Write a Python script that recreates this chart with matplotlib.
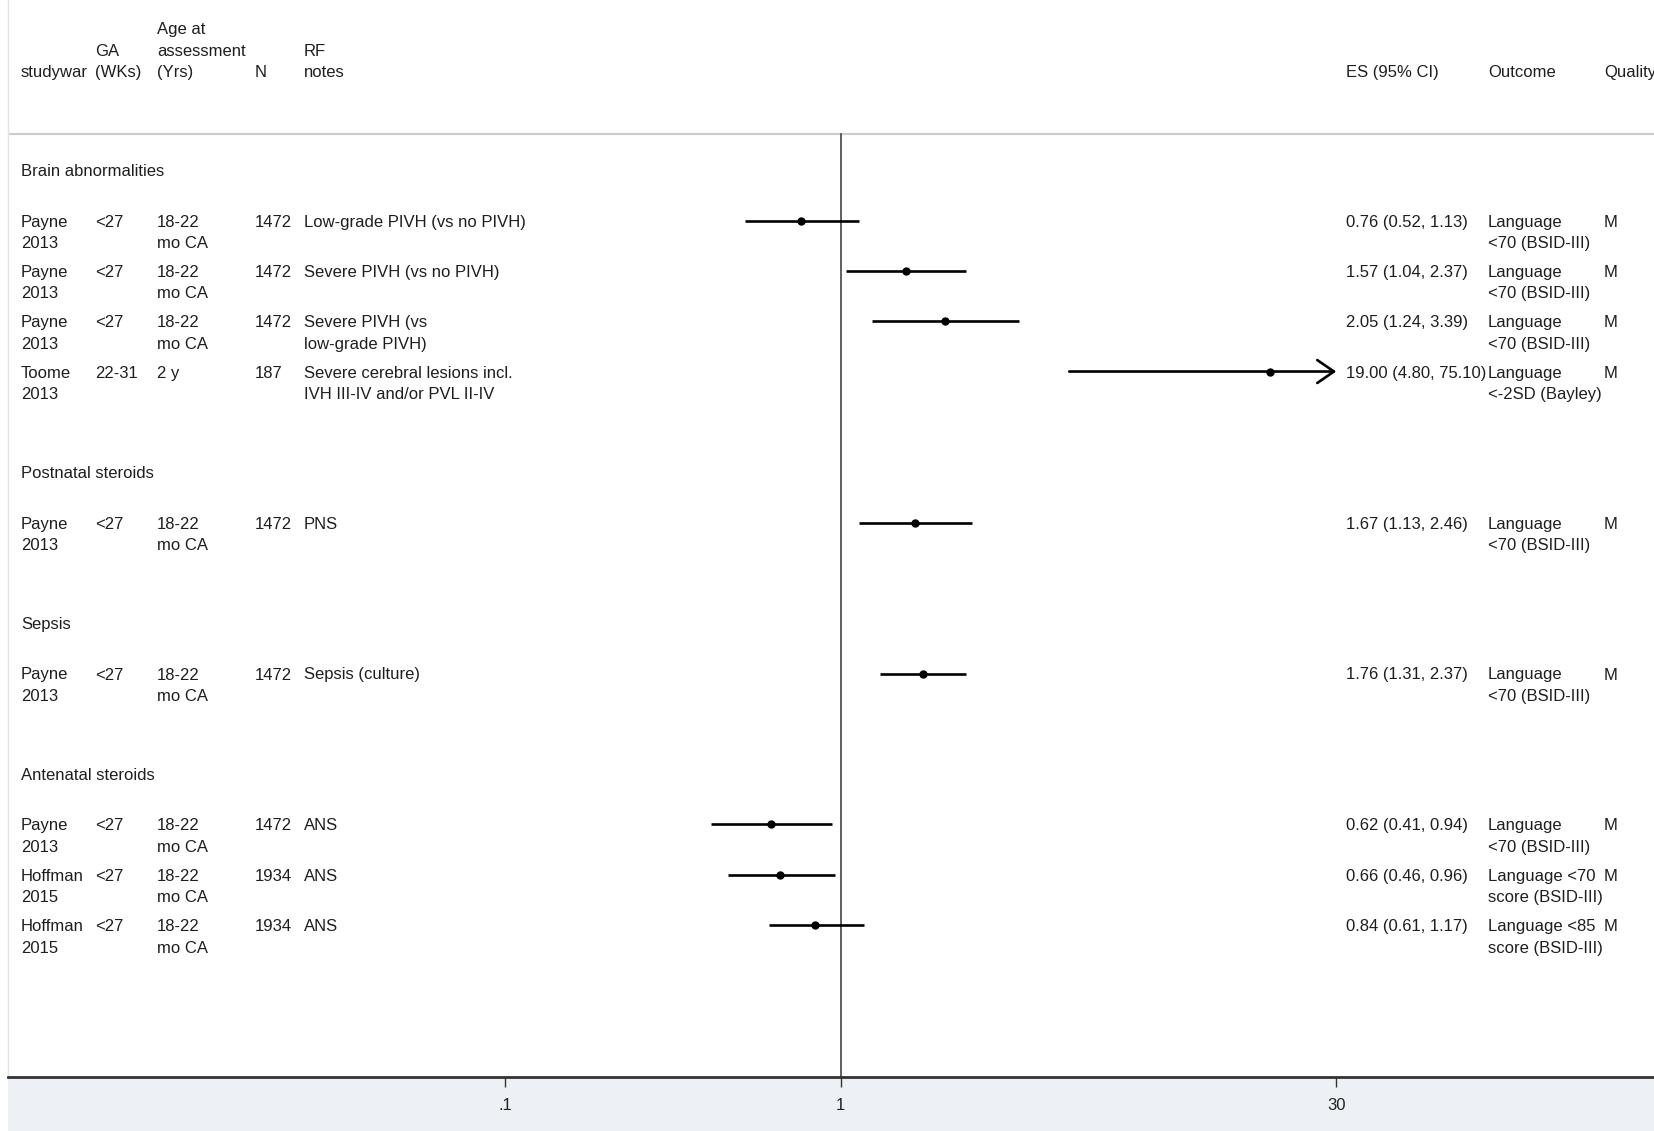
import matplotlib
matplotlib.use("Agg")
import matplotlib.pyplot as plt
from matplotlib.patches import Rectangle
from matplotlib.ticker import NullLocator
import numpy as np

plt.rcParams['font.family'] = ['Liberation Sans', 'DejaVu Sans']

# --- data ---
sections = ["Brain abnormalities", "Postnatal steroids", "Sepsis", "Antenatal steroids"]
section_of = [0, 0, 0, 0, 1, 2, 3, 3, 3]
study = ["Payne\n2013", "Payne\n2013", "Payne\n2013", "Toome\n2013", "Payne\n2013",
         "Payne\n2013", "Payne\n2013", "Hoffman\n2015", "Hoffman\n2015"]
ga = ["<27", "<27", "<27", "22-31", "<27", "<27", "<27", "<27", "<27"]
age = ["18-22\nmo CA", "18-22\nmo CA", "18-22\nmo CA", "2 y", "18-22\nmo CA",
       "18-22\nmo CA", "18-22\nmo CA", "18-22\nmo CA", "18-22\nmo CA"]
n = ["1472", "1472", "1472", "187", "1472", "1472", "1472", "1934", "1934"]
notes = ["Low-grade PIVH (vs no PIVH)", "Severe PIVH (vs no PIVH)",
         "Severe PIVH (vs\nlow-grade PIVH)",
         "Severe cerebral lesions incl.\nIVH III-IV and/or PVL II-IV",
         "PNS", "Sepsis (culture)", "ANS", "ANS", "ANS"]
es = [0.76, 1.57, 2.05, 19.00, 1.67, 1.76, 0.62, 0.66, 0.84]
lo = [0.52, 1.04, 1.24, 4.80, 1.13, 1.31, 0.41, 0.46, 0.61]
hi = [1.13, 2.37, 3.39, 75.10, 2.46, 2.37, 0.94, 0.96, 1.17]
outcome = ["Language\n<70 (BSID-III)", "Language\n<70 (BSID-III)",
           "Language\n<70 (BSID-III)", "Language\n<-2SD (Bayley)",
           "Language\n<70 (BSID-III)", "Language\n<70 (BSID-III)",
           "Language\n<70 (BSID-III)", "Language <70\nscore (BSID-III)",
           "Language <85\nscore (BSID-III)"]
quality = ["M"] * 9

xticks = [0.1, 1, 30]
xticklabels = [".1", "1", "30"]

# header (lines stacked upward from the bottom one)
headers = [("studywar", 21), ("GA\n(WKs)", 95), ("Age at\nassessment\n(Yrs)", 157),
           ("N", 255), ("RF\nnotes", 304), ("ES (95% CI)", 1346),
           ("Outcome", 1488), ("Quality", 1604)]

# --- figure geometry (pixels) ---
W, H = 1654, 1131
left_px, axis_px = 8, 1077
x_one, decade = 840.7, 335.5
y0_px, unit = 170.2, 50.33
line_gap = 21.5 / unit
base_off = 6.0 / unit   # baseline sits below the centre of capitals

fig = plt.figure(figsize=(W / 100, H / 100), dpi=100)
fig.patch.set_facecolor("white")
fig.patches.append(Rectangle((left_px / W, 0), 1 - left_px / W, (H - axis_px) / H,
                             transform=fig.transFigure, facecolor="#edf1f6",
                             edgecolor="none", zorder=-10))

ax = fig.add_axes([left_px / W, (H - axis_px) / H, 1 - left_px / W, axis_px / H])
ax.set_facecolor("white")
ax.set_xscale("log")
ax.set_xlim(10 ** ((left_px - x_one) / decade), 10 ** ((W - x_one) / decade))
ytop = (0 - y0_px) / unit
ybot = (axis_px - y0_px) / unit
ax.set_ylim(ybot, ytop)

for s in ["top", "right"]:
    ax.spines[s].set_visible(False)
ax.spines["left"].set_color("#e4e4e4")
ax.spines["left"].set_linewidth(1)
ax.spines["bottom"].set_color("#333333")
ax.spines["bottom"].set_linewidth(2)
ax.set_yticks([])
ax.set_xticks(xticks)
ax.set_xticklabels(xticklabels)
ax.xaxis.set_minor_locator(NullLocator())
ax.tick_params(axis="x", length=7, width=1, color="#333333", pad=8,
               labelsize=12, labelcolor="#222222")

tr = ax.get_yaxis_transform()
txt = dict(fontsize=12, color="#1e1e1e", va="baseline", ha="left", transform=tr)


def col_x(px):
    return (px - left_px) / (W - left_px)


def put(px, y, s):
    for k, line in enumerate(s.split("\n")):
        ax.text(col_x(px), y + k * line_gap + base_off, line, clip_on=False, **txt)


# header row
head_y = (71 - y0_px) / unit
for label, px in headers:
    lines = label.split("\n")
    for k, line in enumerate(lines):
        ax.text(col_x(px), head_y - (len(lines) - 1 - k) * line_gap + base_off, line, **txt)

hline_y = (134 - y0_px) / unit
ax.axhline(hline_y, color="#cccccc", lw=1.5)
ax.plot([1, 1], [hline_y, ybot], color="#444444", lw=1.2)

# row layout: section header, its studies, then a blank row
pos = 0
row_y = []
for si, name in enumerate(sections):
    put(21, pos, name)
    pos += 1
    for i in range(len(study)):
        if section_of[i] == si:
            row_y.append((i, pos))
            pos += 1
    pos += 1

xmax = xticks[-1]
for i, y in row_y:
    put(21, y, study[i])
    put(95, y, ga[i])
    put(157, y, age[i])
    put(255, y, n[i])
    put(304, y, notes[i])
    put(1346, y, "%.2f (%.2f, %.2f)" % (es[i], lo[i], hi[i]))
    put(1488, y, outcome[i])
    put(1604, y, quality[i])

    if hi[i] > xmax:
        # CI runs past the axis: clip at the last tick and draw an arrow
        ax.annotate("", xy=(xmax, y), xytext=(lo[i], y),
                    arrowprops=dict(arrowstyle="->,head_length=0.8,head_width=0.55",
                                    mutation_scale=15, lw=1.9, color="black",
                                    shrinkA=0, shrinkB=0))
    else:
        ax.plot([lo[i], hi[i]], [y, y], color="black", lw=1.9, solid_capstyle="butt")
    ax.plot(es[i], y, "o", color="black", ms=5, zorder=3)

fig.savefig("out.png", dpi=100)
